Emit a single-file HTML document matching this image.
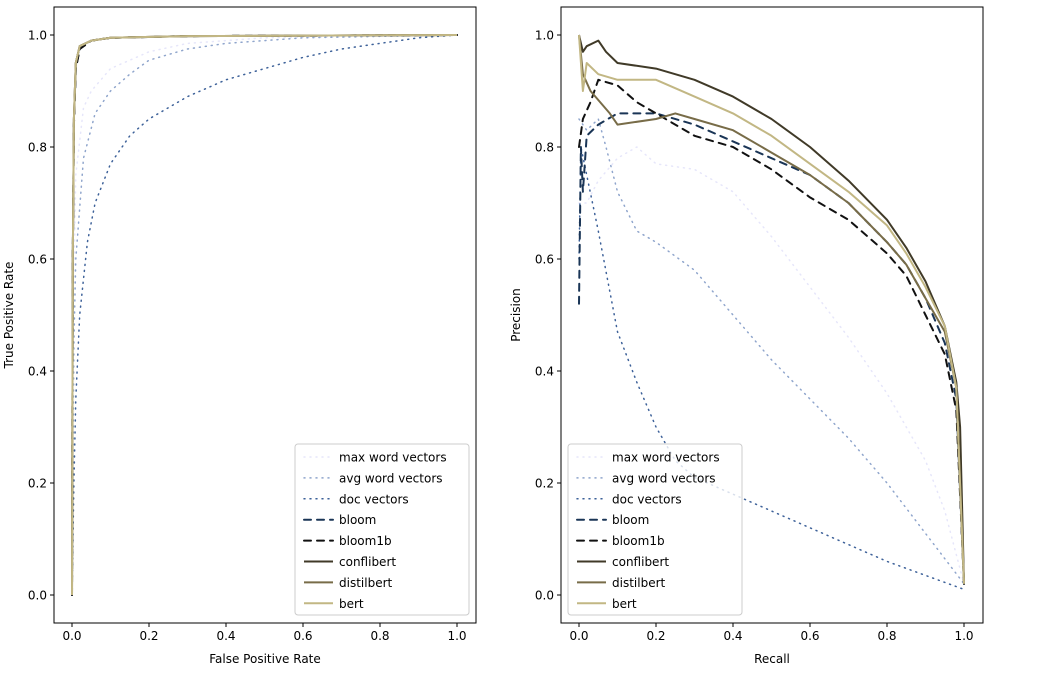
<!DOCTYPE html>
<html><head><meta charset="utf-8"><style>
body{margin:0;background:#fff}
svg{display:block;font-family:"DejaVu Sans","Liberation Sans",sans-serif}
</style></head><body>
<svg id="chart" width="1038" height="682" viewBox="0 0 1038 682"></svg>
<script>
const seriesNames=["max word vectors","avg word vectors","doc vectors","bloom","bloom1b","conflibert","distilbert","bert"];
const rocMax=[[0,0],[0.003,0.5],[0.01,0.75],[0.03,0.87],[0.05,0.9],[0.1,0.94],[0.2,0.97],[0.3,0.985],[0.5,0.995],[1,1]];
const rocAvg=[[0,0],[0.005,0.45],[0.01,0.6],[0.03,0.78],[0.06,0.86],[0.1,0.9],[0.15,0.93],[0.2,0.955],[0.3,0.975],[0.4,0.985],[0.6,0.995],[1,1]];
const rocDoc=[[0,0],[0.005,0.2],[0.01,0.35],[0.02,0.5],[0.04,0.63],[0.06,0.7],[0.1,0.77],[0.15,0.82],[0.2,0.85],[0.3,0.89],[0.4,0.92],[0.5,0.94],[0.6,0.96],[0.7,0.975],[0.8,0.985],[0.9,0.995],[1,1]];
const rocBloom=[[0,0],[0.002,0.6],[0.005,0.84],[0.01,0.94],[0.02,0.975],[0.05,0.99],[0.1,0.995],[0.3,0.998],[1,1]];
const rocBloom1b=[[0,0],[0.002,0.6],[0.005,0.84],[0.01,0.94],[0.02,0.975],[0.05,0.99],[0.1,0.995],[0.3,0.998],[1,1]];
const rocConf=[[0,0],[0.002,0.6],[0.005,0.85],[0.01,0.95],[0.02,0.98],[0.05,0.99],[0.1,0.995],[0.3,0.998],[1,1]];
const rocDistil=[[0,0],[0.002,0.6],[0.005,0.85],[0.01,0.95],[0.02,0.98],[0.05,0.99],[0.1,0.995],[0.3,0.998],[1,1]];
const rocBert=[[0,0],[0.002,0.6],[0.005,0.85],[0.01,0.95],[0.02,0.98],[0.05,0.99],[0.1,0.995],[0.3,0.998],[1,1]];
const prMax=[[0,0.7],[0.02,0.7],[0.05,0.74],[0.1,0.78],[0.15,0.8],[0.2,0.77],[0.3,0.76],[0.4,0.72],[0.5,0.64],[0.6,0.55],[0.7,0.46],[0.8,0.36],[0.9,0.24],[0.95,0.15],[1,0.02]];
const prAvg=[[0,0.85],[0.02,0.83],[0.05,0.85],[0.07,0.8],[0.1,0.72],[0.15,0.65],[0.2,0.63],[0.3,0.58],[0.4,0.5],[0.5,0.42],[0.6,0.35],[0.7,0.28],[0.8,0.2],[0.9,0.11],[1,0.02]];
const prDoc=[[0,0.6],[0.005,0.8],[0.02,0.75],[0.05,0.65],[0.1,0.47],[0.15,0.38],[0.2,0.3],[0.25,0.24],[0.3,0.21],[0.4,0.18],[0.5,0.15],[0.6,0.12],[0.7,0.09],[0.8,0.06],[0.9,0.035],[1,0.01]];
const prBloom=[[0,0.52],[0.005,0.8],[0.01,0.72],[0.02,0.82],[0.05,0.84],[0.1,0.86],[0.2,0.86],[0.3,0.84],[0.4,0.81],[0.5,0.78],[0.6,0.75],[0.7,0.7],[0.8,0.63],[0.85,0.59],[0.9,0.53],[0.95,0.45],[0.98,0.35],[1,0.02]];
const prBloom1b=[[0,0.8],[0.01,0.85],[0.03,0.88],[0.05,0.92],[0.1,0.91],[0.15,0.88],[0.2,0.86],[0.3,0.82],[0.4,0.8],[0.5,0.76],[0.6,0.71],[0.7,0.67],[0.8,0.61],[0.85,0.57],[0.9,0.5],[0.95,0.43],[0.98,0.33],[1,0.02]];
const prConf=[[0,1],[0.01,0.97],[0.02,0.98],[0.05,0.99],[0.07,0.97],[0.1,0.95],[0.2,0.94],[0.3,0.92],[0.4,0.89],[0.5,0.85],[0.6,0.8],[0.7,0.74],[0.8,0.67],[0.85,0.62],[0.9,0.56],[0.95,0.48],[0.98,0.38],[0.99,0.3],[1,0.02]];
const prDistil=[[0,1],[0.01,0.93],[0.03,0.9],[0.08,0.86],[0.1,0.84],[0.2,0.85],[0.25,0.86],[0.3,0.85],[0.4,0.83],[0.5,0.79],[0.6,0.75],[0.7,0.7],[0.8,0.63],[0.85,0.59],[0.9,0.53],[0.95,0.47],[0.98,0.37],[1,0.02]];
const prBert=[[0,1],[0.01,0.9],[0.02,0.95],[0.05,0.93],[0.1,0.92],[0.2,0.92],[0.3,0.89],[0.4,0.86],[0.5,0.82],[0.6,0.77],[0.7,0.72],[0.8,0.66],[0.85,0.61],[0.9,0.55],[0.95,0.48],[0.98,0.37],[1,0.02]];
const tickValues=[0,0.2,0.4,0.6,0.8,1.0];
const tickLabels=["0.0","0.2","0.4","0.6","0.8","1.0"];

const colors=["#e6e6fa","#8fa5cc","#3d6199","#1a3556","#111111","#403a28","#786c48","#c2b784"];
const dashes=["1,5","1,5","1,5","7,6","7,6","","",""];
const widths=[1.5,1.5,1.5,2,2,2,2,2];
const NS="http://www.w3.org/2000/svg";
const svg=document.getElementById('chart');
function mk(t,a,p){const e=document.createElementNS(NS,t);for(const k in a)e.setAttribute(k,a[k]);(p||svg).appendChild(e);return e;}

function panel(ox,roc,data,xl,yl,key){
  const L=ox,R=ox+422,T=7,B=623;
  const sx=v=>ox+18+v*385, sy=v=>595-v*560;
  const g=mk('g',{});
  
  
  data.forEach((d,i)=>{
    const p=mk('polyline',{points:d.map(q=>sx(q[0]).toFixed(1)+','+sy(q[1]).toFixed(1)).join(' '),fill:'none',stroke:colors[i],'stroke-width':widths[i],'stroke-dasharray':dashes[i],'stroke-linecap':dashes[i]?'round':'butt','stroke-linejoin':'round'},g);
    
    
  });
  mk('rect',{x:L,y:T,width:422,height:616,fill:'none',stroke:'#000','stroke-width':1},g);
  tickValues.forEach((v,i)=>{
    mk('line',{x1:sx(v),x2:sx(v),y1:B,y2:B+4,stroke:'#000'},g);
    const t=mk('text',{x:sx(v),y:B+17,'font-size':12,'text-anchor':'middle'},g);t.textContent=tickLabels[i];
    mk('line',{x1:L-4,x2:L,y1:sy(v),y2:sy(v),stroke:'#000'},g);
    const u=mk('text',{x:L-7,y:sy(v)+4.5,'font-size':12,'text-anchor':'end'},g);u.textContent=tickLabels[i];
  });
  const xt=mk('text',{x:(L+R)/2,y:663,'font-size':12,'text-anchor':'middle'},g);xt.textContent=xl;
  
  const yt=mk('text',{x:0,y:0,'font-size':12,'text-anchor':'middle',transform:`translate(${L-41},${(T+B)/2}) rotate(-90)`},g);yt.textContent=yl;
  
  const lx=roc?295:568;
  const lg=mk('g',{},g);
  
  
  mk('rect',{x:lx,y:444,width:174,height:171,rx:3,fill:'#fff','fill-opacity':0.8,stroke:'#ccc'},lg);
  seriesNames.forEach((n,i)=>{
    const y=457+i*20.9;
    mk('line',{x1:lx+9,x2:lx+38,y1:y,y2:y,stroke:colors[i],'stroke-width':widths[i],'stroke-dasharray':dashes[i],'stroke-linecap':dashes[i]?'round':'butt'},lg);
    const t=mk('text',{x:lx+44,y:y+4.5,'font-size':12},lg);t.textContent=n;
    
    
  });
}
panel(54,true,[rocMax,rocAvg,rocDoc,rocBloom,rocBloom1b,rocConf,rocDistil,rocBert],"False Positive Rate","True Positive Rate","roc");
panel(561,false,[prMax,prAvg,prDoc,prBloom,prBloom1b,prConf,prDistil,prBert],"Recall","Precision","pr");
</script>
</body></html>
